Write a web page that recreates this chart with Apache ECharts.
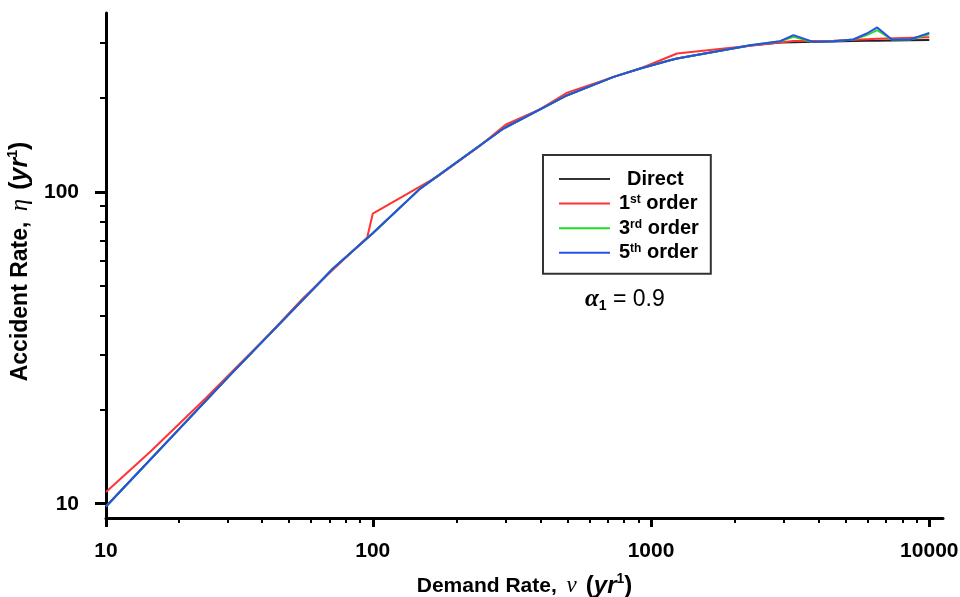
<!DOCTYPE html>
<html>
<head>
<meta charset="utf-8">
<script src="https://cdn.jsdelivr.net/npm/echarts@6/dist/echarts.min.js"></script>
<style>
  html, body { margin: 0; padding: 0; background: #fff; }
  #chart { width: 960px; height: 597px; }
</style>
</head>
<body>
<div id="chart"></div>
<script>
  // demand rate grid shared by direct / 3rd / 5th order curves
  const NU = [11, 31, 72, 100, 148, 295, 500, 734, 915, 1170, 1240, 2270, 2910, 3250, 3830, 4520, 5330, 5960, 6500, 7330, 8520, 10000]
  const ETA_DIRECT = [9.8, 26.1, 56.8, 73.7, 102.5, 159.8, 204.3, 233.9, 248.9, 264.7, 268.0, 295.0, 301.5, 302.0, 303.0, 304.0, 305.0, 305.3, 305.5, 306.0, 306.5, 307.0]
  const ETA_3RD = [9.8, 26.1, 56.8, 73.7, 102.5, 159.8, 204.3, 233.9, 248.9, 264.7, 268.0, 295.7, 304.5, 314.4, 302.9, 304.5, 308.4, 318.5, 330.4, 308.4, 308.4, 320.7]
  const ETA_5TH = [9.8, 26.1, 56.8, 73.7, 102.5, 159.8, 204.3, 233.9, 248.9, 264.7, 268.0, 295.7, 304.5, 318.4, 302.9, 304.5, 308.4, 322.3, 337.0, 308.4, 308.4, 323.8]

  // 1st order has its own points
  const NU_1ST = [11, 15.9, 25.1, 42.9, 56.4, 70.5, 95.5, 100, 170, 244, 300, 400, 500, 734, 915, 1240, 2270, 3250, 4520, 6500, 10000]
  const ETA_1ST = [10.9, 14.7, 21.8, 35.3, 45.8, 55.4, 71.4, 85.2, 111.7, 141.1, 164.3, 184.3, 208.2, 233.9, 248.9, 278.1, 294.6, 305.2, 305.6, 310.2, 313.7]

  const X_MAJOR = [11, 100, 1000, 10000]
  const X_MINOR = [20, 30, 40, 50, 60, 70, 80, 90, 200, 300, 400, 500, 600, 700, 800, 900, 2000, 3000, 4000, 5000, 6000, 7000, 8000, 9000]
  const Y_MAJOR = [10, 100]
  const Y_MINOR = [20, 30, 40, 50, 60, 70, 80, 90, 200, 300]

  const FONT = '"Liberation Sans", Arial, sans-serif'
  const SERIF = '"Liberation Serif", "DejaVu Serif", serif'

  const zip = (xs, ys) => xs.map((x, i) => [x, ys[i]])

  const makeNameRich = (size, big) => ({
    b: { fontFamily: FONT, fontSize: size, fontWeight: 'bold', color: '#000', lineHeight: 28 },
    g: { fontFamily: SERIF, fontSize: size + 2, fontStyle: 'italic', color: '#000', lineHeight: 28, padding: [0, 9, 0, 4] },
    p: { fontFamily: FONT, fontSize: big, fontWeight: 'bold', color: '#000', lineHeight: 28 },
    i: { fontFamily: FONT, fontSize: big, fontWeight: 'bold', fontStyle: 'italic', color: '#000', lineHeight: 28 },
    s: { fontFamily: FONT, fontSize: 14, fontWeight: 'bold', color: '#000', verticalAlign: 'top', lineHeight: 14 }
  })

  const legendRich = {
    b: { fontFamily: FONT, fontSize: 20, fontWeight: 'bold', color: '#000', lineHeight: 20, padding: [0, 0, 0, 4] },
    d: { fontFamily: FONT, fontSize: 20, fontWeight: 'bold', color: '#000', lineHeight: 20, padding: [0, 0, 0, 12] },
    t: { fontFamily: FONT, fontSize: 20, fontWeight: 'bold', color: '#000', lineHeight: 20 },
    s: { fontFamily: FONT, fontSize: 12, fontWeight: 'bold', color: '#000', verticalAlign: 'top', lineHeight: 12 }
  }

  const legendLabels = {
    'Direct': '{d|Direct}',
    '1st order': '{b|1}{s|st}{t| order}',
    '3rd order': '{b|3}{s|rd}{t| order}',
    '5th order': '{b|5}{s|th}{t| order}'
  }

  const tickAxis = (values, len, width) => ({
    show: true,
    inside: false,
    length: len,
    customValues: values,
    lineStyle: { color: '#000', width }
  })

  const chart = echarts.init(document.getElementById('chart'))

  const option = {
    animation: false,
    backgroundColor: '#fff',
    grid: { left: 106, right: 17, top: 13, bottom: 79, containLabel: false, outerBoundsMode: 'none' },
    legend: {
      orient: 'vertical',
      left: 543,
      top: 155,
      padding: [14, 12, 11, 16],
      itemGap: 4.6,
      itemWidth: 51,
      itemHeight: 2,
      icon: 'rect',
      borderColor: '#333',
      borderWidth: 2,
      data: ['Direct', '1st order', '3rd order', '5th order'],
      formatter: (name) => legendLabels[name],
      textStyle: { rich: legendRich }
    },
    xAxis: [
      {
        type: 'log',
        logBase: 10,
        min: 11,
        max: 11200,
        name: '{b|Demand Rate, }{g|ν}{p|(}{i|yr}{s|1}{p|)}',
        nameLocation: 'middle',
        nameGap: 54,
        nameTextStyle: { rich: makeNameRich(21, 24) },
        axisLine: { show: true, lineStyle: { color: '#000', width: 3 } },
        axisTick: tickAxis(X_MAJOR, 9, 3),
        axisLabel: {
          customValues: X_MAJOR,
          margin: 23,
          fontFamily: FONT,
          fontSize: 21,
          fontWeight: 'bold',
          color: '#000',
          formatter: (v) => v < 20 ? '10' : String(Math.round(v))
        },
        splitLine: { show: false },
        minorTick: { show: false }
      },
      {
        type: 'log',
        logBase: 10,
        min: 11,
        max: 11200,
        position: 'bottom',
        offset: 0,
        axisLine: { show: false },
        axisTick: tickAxis(X_MINOR, 5, 2),
        axisLabel: { show: false },
        splitLine: { show: false }
      }
    ],
    yAxis: [
      {
        type: 'log',
        logBase: 10,
        min: 9,
        max: 375,
        name: '{b|Accident Rate, }{g|η}{p|(}{i|yr}{s|1}{p|)}',
        nameLocation: 'middle',
        nameRotate: 90,
        nameGap: 69,
        nameTextStyle: { rich: makeNameRich(23, 25), padding: [0, 0, 0, 8] },
        axisLine: { show: true, lineStyle: { color: '#000', width: 3 } },
        axisTick: tickAxis(Y_MAJOR, 11, 3),
        axisLabel: {
          customValues: Y_MAJOR,
          margin: 27,
          fontFamily: FONT,
          fontSize: 21,
          fontWeight: 'bold',
          color: '#000'
        },
        splitLine: { show: false }
      },
      {
        type: 'log',
        logBase: 10,
        min: 9,
        max: 375,
        position: 'left',
        offset: 0,
        axisLine: { show: false },
        axisTick: tickAxis(Y_MINOR, 6, 2),
        axisLabel: { show: false },
        splitLine: { show: false }
      }
    ],
    series: [
      {
        name: 'Direct',
        type: 'line',
        symbol: 'none',
        color: '#333',
        lineStyle: { color: '#222', width: 2 },
        data: zip(NU, ETA_DIRECT)
      },
      {
        name: '1st order',
        type: 'line',
        symbol: 'none',
        color: '#ff3333',
        lineStyle: { color: '#ff3333', width: 2 },
        data: zip(NU_1ST, ETA_1ST)
      },
      {
        name: '3rd order',
        type: 'line',
        symbol: 'none',
        color: '#22dd22',
        lineStyle: { color: '#22dd22', width: 2 },
        data: zip(NU, ETA_3RD)
      },
      {
        name: '5th order',
        type: 'line',
        symbol: 'none',
        color: '#2a4fe8',
        lineStyle: { color: '#2a4fe8', width: 2 },
        data: zip(NU, ETA_5TH)
      }
    ],
    graphic: [
      {
        type: 'text',
        left: 585,
        top: 287,
        style: {
          text: '{a|α}{n|1}{e| = 0.9}',
          rich: {
            a: { fontFamily: SERIF, fontSize: 25, fontStyle: 'italic', fontWeight: 'bold', fill: '#000', lineHeight: 28 },
            n: { fontFamily: FONT, fontSize: 14, fontWeight: 'bold', fill: '#000', verticalAlign: 'bottom', lineHeight: 14 },
            e: { fontFamily: FONT, fontSize: 23, fill: '#000', lineHeight: 28 }
          }
        }
      }
    ]
  }

  chart.setOption(option)
</script>
</body>
</html>
